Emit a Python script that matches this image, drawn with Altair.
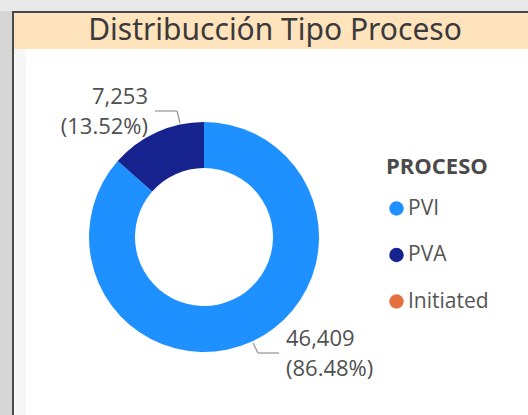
import altair as alt
import pandas as pd

# ---- data ----
categories = ["PVI", "PVA", "Initiated"]
values = [46409, 7253, 0]
order_idx = [0, 1, 2]
colors = ["#1E90FF", "#16238F", "#E5703F"]

total = sum(values)
df = pd.DataFrame({"PROCESO": categories, "valor": values, "idx": order_idx})

W, H = 528, 415
CX, CY = 204, 237
R_OUT, R_IN = 115, 69

LABEL_FONT = "Open Sans"
TXT = "#505050"

def rect(x, x2, y, y2, color):
    return alt.Chart(pd.DataFrame({"a": [0]})).mark_rect(color=color).encode(
        x=alt.value(x), x2=alt.value(x2), y=alt.value(y), y2=alt.value(y2))

def rule(x, y, x2, y2, color="#9a9a9a", w=1.3):
    return alt.Chart(pd.DataFrame({"a": [0]})).mark_rule(color=color, strokeWidth=w).encode(
        x=alt.value(x), x2=alt.value(x2), y=alt.value(y), y2=alt.value(y2))

def text(s, x, y, align, size=22, color=TXT, font=LABEL_FONT, weight="normal"):
    return alt.Chart(pd.DataFrame({"t": [s]})).mark_text(
        align=align, baseline="middle", fontSize=size, font=font, color=color, fontWeight=weight
    ).encode(text="t:N", x=alt.value(x), y=alt.value(y))

# frame
frame = [
    rect(0, W, 0, H, "#ffffff"),
    rect(0, 12, 0, H, "#d6d6d6"),
    rect(0, W, 0, 11, "#e9e9e9"),
    rect(14, W, 13, 49, "#FFE3BD"),
    rect(12, 14, 11, H, "#4a4a4a"),
    rect(12, W, 11, 13, "#4a4a4a"),
    rect(14, 26, 49, H, "#f7f7f7"),
]

title = text("Distribucción Tipo Proceso", 275, 31, "center", size=30,
             color="#3a3a3a", font="Noto Sans")

donut = alt.Chart(df).mark_arc(innerRadius=R_IN, outerRadius=R_OUT).encode(
    theta=alt.Theta("valor:Q", stack=True),
    order=alt.Order("idx:Q"),
    color=alt.Color(
        "PROCESO:N",
        scale=alt.Scale(domain=categories, range=colors),
        sort=categories,
        legend=alt.Legend(
            title="PROCESO", orient="none", legendX=386, legendY=157,
            titleFont=LABEL_FONT, titleFontSize=22, titleFontWeight="bold", titleColor="#4a4a4a",
            labelFont=LABEL_FONT, labelFontSize=21, labelColor="#555555",
            symbolType="circle", symbolSize=210, symbolStrokeWidth=0,
            labelOffset=1, rowPadding=24.5, titlePadding=19, padding=0,
        ),
    ),
    x=alt.value(CX), y=alt.value(CY),
)

v_pvi, v_pva = values[0], values[1]
labels = [
    text(f"{v_pva:,}", 148, 97, "right"),
    text(f"({v_pva / total * 100:.2f}%)", 148, 127, "right"),
    text(f"{v_pvi:,}", 286, 339, "left"),
    text(f"({v_pvi / total * 100:.2f}%)", 286, 369, "left"),
]
leaders = [
    rule(155, 111, 177, 111),
    rule(177, 111, 180, 123),
    rule(253, 343, 258, 353),
    rule(258, 353, 279, 353),
]

chart = alt.layer(*frame, title, donut, *leaders, *labels).properties(
    width=W, height=H, padding=0, autosize=alt.AutoSizeParams(type="none")
).configure_view(stroke=None)

chart.save("out.html", embed_options={"renderer": "svg", "actions": False})
